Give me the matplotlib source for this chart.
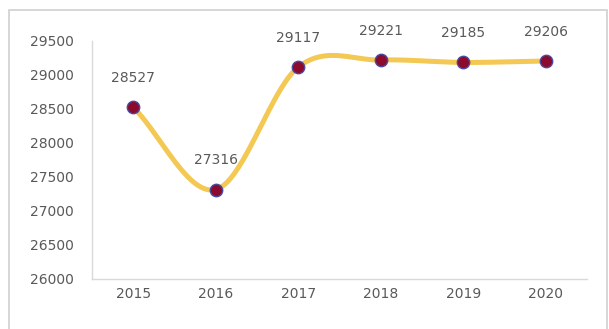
import matplotlib.pyplot as plt
import numpy as np
from matplotlib.patches import Rectangle

years = ['2015', '2016', '2017', '2018', '2019', '2020']
values = [28527, 27316, 29117, 29221, 29185, 29206]
y_ticks = [26000, 26500, 27000, 27500, 28000, 28500, 29000, 29500]


def smooth_curve(xs, ys, n=40):
    # Catmull-Rom style smoothing, like Excel's "smoothed line"
    px = np.concatenate([[2 * xs[0] - xs[1]], xs, [2 * xs[-1] - xs[-2]]])
    py = np.concatenate([[2 * ys[0] - ys[1]], ys, [2 * ys[-1] - ys[-2]]])
    out_x, out_y = [], []
    for i in range(1, len(px) - 2):
        t = np.linspace(0, 1, n)
        for p, out in ((px, out_x), (py, out_y)):
            p0, p1, p2, p3 = p[i - 1], p[i], p[i + 1], p[i + 2]
            out.extend(0.5 * ((2 * p1) + (-p0 + p2) * t
                              + (2 * p0 - 5 * p1 + 4 * p2 - p3) * t ** 2
                              + (-p0 + 3 * p1 - 3 * p2 + p3) * t ** 3))
    return np.array(out_x), np.array(out_y)


fig = plt.figure(figsize=(6.09, 3.29), dpi=100)
fig.patch.set_facecolor('white')
fig.patches.append(Rectangle((9 / 609, -0.02), 598 / 609, 1 - 10 / 329 + 0.02,
                             transform=fig.transFigure, fill=False,
                             edgecolor='#d0d0d0', linewidth=1.2))

ax = fig.add_axes([92 / 609, 1 - 279 / 329, 495 / 609, 238 / 329])

x = np.arange(len(years), dtype=float)
sx, sy = smooth_curve(x, np.array(values, dtype=float))
ax.plot(sx, sy, color='#F3C853', linewidth=3.6, solid_capstyle='round', zorder=2)
ax.scatter(x, values, s=80, color='#8B0A2E', edgecolors='#4A4AA0', linewidths=1.0, zorder=3)

for xi, v in zip(x, values):
    ax.annotate(str(v), (xi, v), xytext=(0, 21), textcoords='offset points',
                ha='center', va='center', fontsize=10, color='#595959')

ax.set_xlim(-0.5, len(years) - 0.5)
ax.set_ylim(26000, 29500)
ax.set_yticks(y_ticks)
ax.set_xticks(x)
ax.set_xticklabels(years)
ax.tick_params(axis='both', length=0, labelsize=10, labelcolor='#595959')
ax.tick_params(axis='y', pad=13)
ax.tick_params(axis='x', pad=6)

for s in ['top', 'right']:
    ax.spines[s].set_visible(False)
for s in ['left', 'bottom']:
    ax.spines[s].set_color('#d9d9d9')
    ax.spines[s].set_linewidth(1.0)

fig.savefig('out.png', dpi=100)
